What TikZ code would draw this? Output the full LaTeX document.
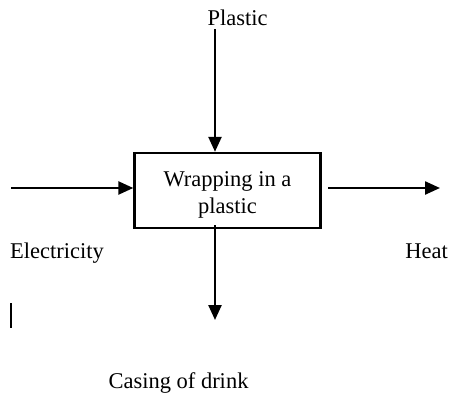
\documentclass[tikz,border=0pt]{standalone}
\usepackage{fontspec}
\setmainfont{Liberation Serif}
\usetikzlibrary{arrows.meta}
\begin{document}
\begin{tikzpicture}[x=1pt,y=-1pt,
  flow/.style={line width=2.4pt,-{Triangle[length=15pt,width=13pt]}},
  label/.style={font=\fontsize{22.5}{27}\selectfont,inner sep=0pt},
  process/.style={draw,line width=2.4pt,minimum width=186pt,minimum height=75pt,
    align=center,font=\fontsize{22.5}{27}\selectfont,inner sep=0pt}]
\useasboundingbox (0,0) rectangle (449,394);
% process box
\node[process] (box) at (227.5,190.5) {\\[-4pt]Wrapping in a\\plastic};
% labels
\node[label,anchor=base] (plastic) at (237.5,25) {Plastic};
\node[label,anchor=base west] (elec) at (10,258.5) {Electricity};
\node[label,anchor=base east] (heat) at (448,258.5) {Heat};
\node[label,anchor=base] (casing) at (178.5,388) {Casing of drink};
% arrow end points
\coordinate (pin) at (215,29);
\coordinate (ein) at (11,188);
\coordinate (hout) at (440,188);
\coordinate (hstart) at (328,188);
\coordinate (cstart) at (215,225);
\coordinate (cout) at (215,320);
\draw[flow] (pin) -- (pin |- box.north);
\draw[flow] (ein) -- (box.west |- ein);
\draw[flow] (hstart) -- (hout);
\draw[flow] (cstart) -- (cout);
% text cursor mark
\coordinate (bar1) at (11,303);
\coordinate (bar2) at (11,328);
\draw[line width=1.4pt] (bar1) -- (bar2);
\end{tikzpicture}
\end{document}
